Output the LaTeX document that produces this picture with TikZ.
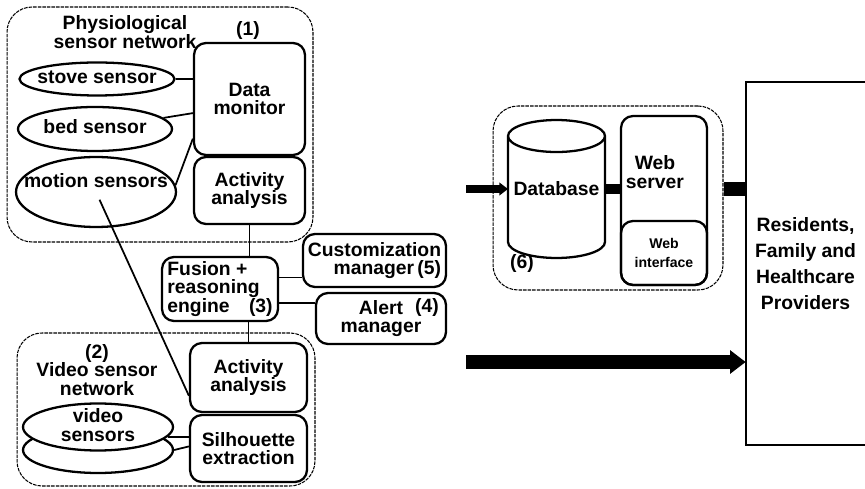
\documentclass[tikz,border=0pt]{standalone}
\usepackage{fontspec}
\setmainfont{Liberation Sans}
\usetikzlibrary{shapes.geometric,arrows.meta}
\newcommand{\ovl}[1]{\makebox[0pt]{\begin{tabular}{@{}c@{}}#1\end{tabular}}}

\begin{document}
\begin{tikzpicture}[x=0.02cm, y=-0.02cm,
                every node/.style={font=\bfseries\fontsize{11}{10.5}\selectfont, inner sep=1pt},
                procbox/.style={draw, rounded corners=0.24cm, line width=1.3pt, align=center},
                groupbox/.style={draw, rounded corners=0.5cm, line width=0.6pt, dash pattern=on 2pt off 0.6pt},
                sensor/.style={draw, ellipse, line width=1.3pt, fill=white, text height=1.6ex, text depth=0.4ex},
                dbcap/.style={x radius=0.97cm, y radius=0.32cm},
                link/.style={line width=1pt},
                thickbar/.style={line width=#1},
                bigarrow/.style={line width=#1, -{Triangle[length=0pt 1.1, width=0pt 1.6]}}]
                \useasboundingbox (0,0) rectangle (865,489);
                \node[groupbox, minimum width=6.12cm, minimum height=4.7cm](physnet) at (160,124.5){};
                \node[align=center](phystitle) at (125,32){Physiological\\sensor network};
                \node(num1) at (248,31){(1)};
                \node[procbox, minimum width=2.22cm, minimum height=2.24cm](datamon) at (249.5,99){Data\\monitor};
                \node[procbox, minimum width=2.22cm, minimum height=1.34cm](act1) at (249.5,190.5){Activity\\analysis};
                \node[sensor, minimum width=3.1cm, minimum height=0.66cm](stove) at (97,79){\ovl{stove sensor}};
                \node[sensor, minimum width=3.08cm, minimum height=0.88cm](bed) at (95,129){\ovl{bed sensor}};
                \node[sensor, minimum width=3.2cm, minimum height=1.4cm](motion) at (96,192){\raisebox{0.18cm}{\ovl{motion sensors}}};
                \node[groupbox, minimum width=5.96cm, minimum height=3.06cm](vidnet) at (166,409.5){};
                \node[align=center](vidtitle) at (97,370){(2)\\Video sensor\\network};
                \node[procbox, minimum width=2.34cm, minimum height=1.38cm](act2) at (248.5,377.5){Activity\\analysis};
                \node[procbox, minimum width=2.34cm, minimum height=1.34cm](silh) at (248.5,448.5){Silhouette\\extraction};
                \node[sensor, minimum width=3cm, minimum height=0.92cm](vsensb) at (98,450){};
                \node[sensor, minimum width=3cm, minimum height=0.94cm](vsens) at (98,427){\ovl{video\\sensors}};
                \node[procbox, align=left, minimum width=2.32cm, minimum height=1.28cm](fusion) at (220,289){Fusion +\\reasoning\\engine\quad(3)};
                \node[procbox, align=right, minimum width=2.86cm, minimum height=1.06cm](custom) at (374.5,260.5){Customization\\manager\,(5)};
                \node[procbox, minimum width=2.6cm, minimum height=1.02cm](alert) at (381,318.5){Alert\\manager};
                \node(num4) at (427,308){(4)};
                \node[groupbox, minimum width=4.6cm, minimum height=3.68cm](webgroup) at (608,198){};
                \node[minimum width=1.94cm, minimum height=2.76cm, outer sep=0pt](db) at (556.5,189){Database};
                \draw[line width=1.3pt] ([yshift=-0.32cm]db.north west) -- ([yshift=0.32cm]db.south west)
                        arc[start angle=180, end angle=360, dbcap] -- ([yshift=-0.32cm]db.north east)
                        arc[start angle=0, end angle=360, dbcap];
                \node[procbox, minimum width=1.72cm, minimum height=3.38cm](websrv) at (664,200.5){};
                \node[align=center](websrvtext) at (655,172){Web\\server};
                \node[procbox, minimum width=1.72cm, minimum height=1.28cm, font=\bfseries\fontsize{8}{11}\selectfont](webif) at (664,253){Web\\interface};
                \node(num6) at (522,264){(6)};
                \node[minimum width=2.38cm, minimum height=7.26cm, align=center, font=\bfseries\fontsize{11}{14.7}\selectfont](users) at (805.5,263.5){Residents,\\Family and\\Healthcare\\Providers};
                \draw[line width=1.1pt] (users.north east) -- (users.north west) -- (users.south west) -- (users.south east);
                \coordinate (dbin) at (466,189);
                \coordinate (usersin) at (466,362);
                \path (stove) edge[link] (datamon.west |- stove);
                \path (bed) edge[link] (datamon.194);
                \path (motion.5) edge[link] (datamon.215);
                \path (motion.center) edge[link, shorten <=0.17cm] (act2.197);
                \path (act1) edge[link] (act1 |- fusion.north);
                \path (act2) edge[link] (act2 |- fusion.south);
                \path (fusion.11) edge[link] (custom.west |- fusion.11);
                \path (fusion.-13) edge[link] (alert.west |- fusion.-13);
                \path (vsens.-8) edge[link] (silh.west |- vsens.-8);
                \path (vsensb.east) edge[link] (silh.178);
                \path (dbin) edge[bigarrow=4.5pt] (db.west |- dbin);
                \path (db.east |- dbin) edge[thickbar=6pt] (websrv.west |- dbin);
                \path (webgroup.east |- dbin) edge[thickbar=8.5pt] (users.west |- dbin);
                \path (usersin) edge[bigarrow=8pt] (users.west |- usersin);
\end{tikzpicture}
\end{document}
